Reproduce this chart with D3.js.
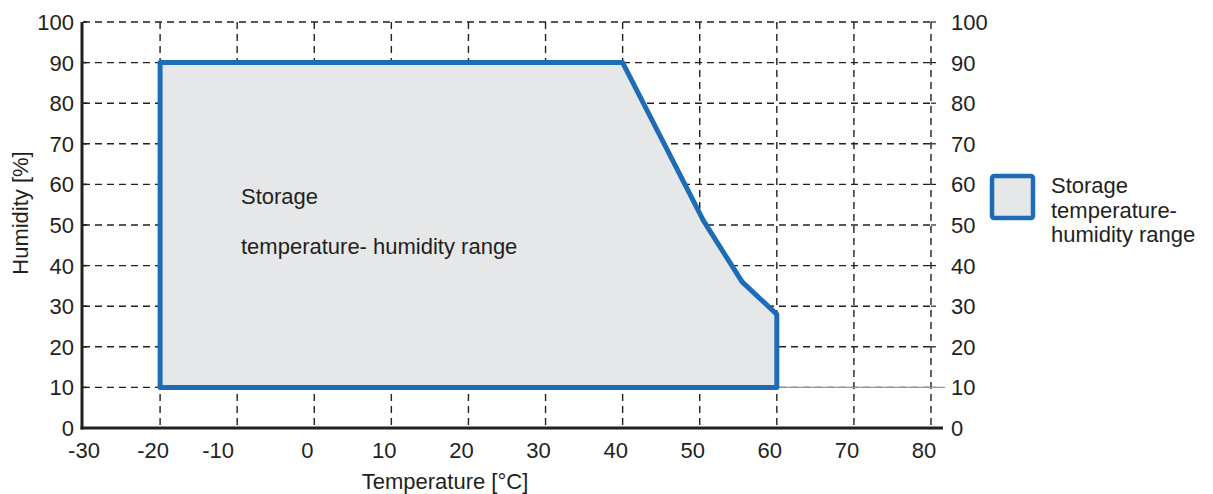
<!DOCTYPE html>
<html><head><meta charset="utf-8">
<script src="https://cdn.jsdelivr.net/npm/d3@7"></script>
<style>body{margin:0;background:#fff}svg{display:block}text{font-family:"Liberation Sans",Arial,sans-serif;fill:#231f20}</style>
</head><body>
<svg id="c" width="1213" height="494"></svg>
<script>
const xTicks = [-30,-20,-10,0,10,20,30,40,50,60,70,80];
const yTicks = [0,10,20,30,40,50,60,70,80,90,100];
const rangeTemp = [-20,-20,40,50.5,55.5,60,60];
const rangeHum  = [10,90,90,51,36,28,10];
const seriesName = "Storage temperature-humidity range";
const innerLabel = ["Storage","temperature- humidity range"];
const legendLines = ["Storage","temperature-","humidity range"];

const svg = d3.select("#c");
const x = d3.scaleLinear().domain([-30,80]).range([83,931]);
const y = d3.scaleLinear().domain([0,100]).range([428,22]);
const ink = "#231f20", blue = "#1f6cb6";

// grid
const g = svg.append("g");
yTicks.filter(v=>v>0).forEach(v=>{
  g.append("line").attr("x1",x(-30)).attr("x2",x(80)).attr("y1",y(v)).attr("y2",y(v))
   .attr("stroke",ink).attr("stroke-width",1.4).attr("stroke-dasharray","7,5");
  g.append("line").attr("x1",x(80)).attr("x2",x(80)+5).attr("y1",y(v)).attr("y2",y(v))
   .attr("stroke",ink).attr("stroke-width",1.2);
});
xTicks.filter(v=>v>-30).forEach(v=>{
  g.append("line").attr("x1",x(v)).attr("x2",x(v)).attr("y1",y(100)).attr("y2",y(0))
   .attr("stroke",ink).attr("stroke-width",1.4).attr("stroke-dasharray","7,5");
});
g.append("line").attr("x1",x(60)).attr("x2",x(80)+14).attr("y1",y(10)).attr("y2",y(10))
 .attr("stroke","#999").attr("stroke-width",1.2);

// polygon
const pts = rangeTemp.map((t,i)=>[x(t),y(rangeHum[i])]);
svg.append("path").attr("d",d3.line()(pts)+"Z")
  .attr("fill","#e6e7e9").attr("stroke",blue).attr("stroke-width",5).attr("stroke-linejoin","round");

// axes lines
svg.append("line").attr("x1",x(-30)-1).attr("x2",x(-30)-1).attr("y1",y(100)).attr("y2",y(0)+1.5)
 .attr("stroke",ink).attr("stroke-width",3);
svg.append("line").attr("x1",x(-30)-2.5).attr("x2",x(80)+12).attr("y1",y(0)).attr("y2",y(0))
 .attr("stroke",ink).attr("stroke-width",3);
yTicks.forEach(v=>{
  svg.append("line").attr("x1",x(-30)).attr("x2",x(-30)+4).attr("y1",y(v)).attr("y2",y(v)).attr("stroke",ink).attr("stroke-width",1.5);
});

// tick labels
const fs = 22;
svg.append("g").selectAll("text").data(yTicks).join("text")
  .attr("x",74).attr("y",d=>y(d)).attr("dy","0.36em").attr("text-anchor","end")
  .attr("font-size",fs).text(d=>d);
svg.append("g").selectAll("text").data(yTicks).join("text")
  .attr("x",951).attr("y",d=>y(d)).attr("dy","0.36em").attr("text-anchor","start")
  .attr("font-size",fs).text(d=>d);
svg.append("g").selectAll("text").data(xTicks).join("text")
  .attr("x",d=>x(d)-(d===-30?-1:(d===-10?19:7))).attr("y",458).attr("text-anchor","middle")
  .attr("font-size",fs).text(d=>d);

// axis titles
svg.append("text").attr("x",445).attr("y",489).attr("text-anchor","middle").attr("font-size",fs).text("Temperature [°C]");
svg.append("text").attr("transform","translate(28,213) rotate(-90)").attr("text-anchor","middle").attr("font-size",fs).text("Humidity [%]");

// inner label
svg.append("text").attr("x",241).attr("y",204).attr("font-size",fs).text(innerLabel[0]);
svg.append("text").attr("x",241).attr("y",254).attr("font-size",fs).text(innerLabel[1]);

// legend
svg.append("rect").attr("x",992).attr("y",176).attr("width",41).attr("height",42).attr("rx",2)
  .attr("fill","#e6e7e9").attr("stroke",blue).attr("stroke-width",4.5).append("title").text(seriesName);
svg.append("g").selectAll("text").data(legendLines).join("text")
  .attr("x",1051).attr("y",(d,i)=>193+i*24.5).attr("font-size",fs).text(d=>d);
</script>
</body></html>
